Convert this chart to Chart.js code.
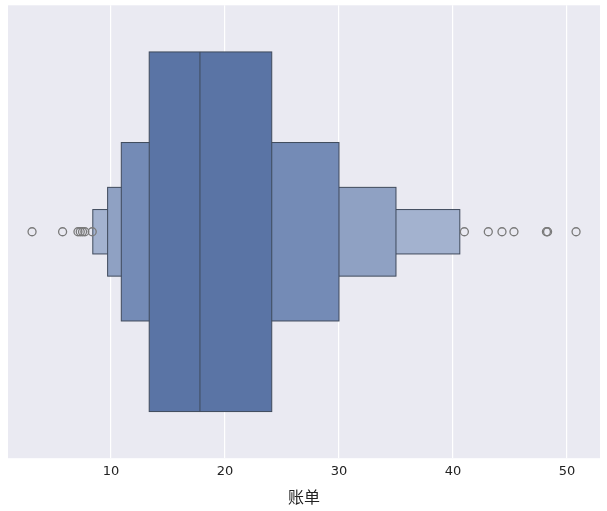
<!DOCTYPE html><html><head><meta charset="utf-8">
<script src="https://cdn.jsdelivr.net/npm/chart.js@4"></script>
<style>body{margin:0;background:#fff}#w{width:607px;height:511px}</style></head><body>
<div id="w"><canvas id="c"></canvas></div>
<script>
const xTicks=[10,20,30,40,50];
const lows=[13.35,10.9,9.7,8.4];
const highs=[24.1,30.0,35.0,40.6];
const halfH=[0.397,0.197,0.098,0.049];
const boxColors=['#5a74a5','#748bb6','#8fa1c3','#a3b2cf'];
const median=17.8;
const outliers=[3.07,5.75,7.1,7.3,7.5,7.7,8.35,41.0,43.1,44.3,45.35,48.2,48.3,50.8];
const boxPlugin={id:'boxen',
 beforeDraw(ch){const a=ch.chartArea,c=ch.ctx;c.save();c.fillStyle='#eaeaf2';c.fillRect(a.left,a.top,a.width,a.height);c.restore();},
 beforeDatasetsDraw(ch){const c=ch.ctx,x=ch.scales.x,y=ch.scales.y;c.save();c.strokeStyle='#3f4a5c';c.lineWidth=1;
  for(let i=lows.length-1;i>=0;i--){const x0=x.getPixelForValue(lows[i]),x1=x.getPixelForValue(highs[i]);const y0=y.getPixelForValue(halfH[i]),y1=y.getPixelForValue(-halfH[i]);
   c.fillStyle=boxColors[i];c.fillRect(x0,y0,x1-x0,y1-y0);c.strokeRect(x0,y0,x1-x0,y1-y0);}
  const mx=x.getPixelForValue(median);c.beginPath();c.moveTo(mx,y.getPixelForValue(halfH[0]));c.lineTo(mx,y.getPixelForValue(-halfH[0]));c.stroke();c.restore();}};
new Chart(document.getElementById('c'),{type:'scatter',
 data:{datasets:[{data:outliers.map(v=>({x:v,y:0})),pointRadius:4,pointBorderWidth:1.3,borderColor:'#7a7a7a',backgroundColor:'rgba(0,0,0,0)'}]},
 options:{responsive:true,maintainAspectRatio:false,animation:false,layout:{padding:{left:8,right:7,top:5}},
  plugins:{legend:{display:false},tooltip:{enabled:false}},
  scales:{x:{min:0.96,max:52.9,afterBuildTicks(s){s.ticks=xTicks.map(v=>({value:v}));},
    grid:{color:'#ffffff',lineWidth:1.2,drawTicks:false},border:{display:false},
    ticks:{color:'#222',font:{family:'DejaVu Sans',size:13},padding:6},
    title:{display:true,text:'账单',color:'#222',font:{family:'Noto Sans CJK SC',size:16},padding:{top:2}}},
   y:{display:false,min:-0.5,max:0.5}}},
 plugins:[boxPlugin]});
</script></body></html>
